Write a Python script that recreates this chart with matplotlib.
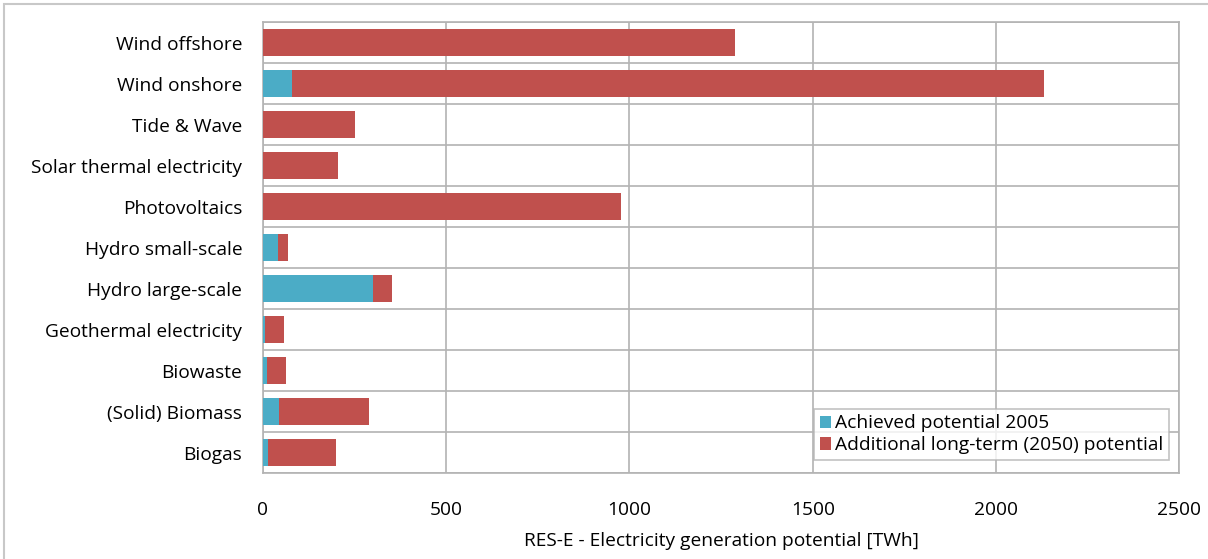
import matplotlib
matplotlib.use("Agg")
import matplotlib.pyplot as plt
from matplotlib.patches import Rectangle
import numpy as np

categories = ["Biogas", "(Solid) Biomass", "Biowaste", "Geothermal electricity",
              "Hydro large-scale", "Hydro small-scale", "Photovoltaics",
              "Solar thermal electricity", "Tide & Wave", "Wind onshore", "Wind offshore"]
achieved_2005 = [14, 43, 12, 5, 299, 42, 1, 0, 0, 78, 1]
total_2050 = [198, 288, 64, 56, 351, 67, 976, 205, 251, 2131, 1288]
additional_2050 = [t - a for t, a in zip(total_2050, achieved_2005)]

x_ticks = [0, 500, 1000, 1500, 2000, 2500]

BLUE = "#4BACC6"
RED = "#C0504D"
GRID = "#B3B3B3"
FS = 13.8

plt.rcParams["font.family"] = ["Open Sans", "DejaVu Sans"]

fig = plt.figure(figsize=(12.08, 5.59), dpi=100)
ax = fig.add_axes([0.2177, 0.1538, 0.9762 - 0.2177, 0.9606 - 0.1538])

y = np.arange(len(categories))
ax.barh(y, achieved_2005, height=0.66, color=BLUE, label="Achieved potential 2005", zorder=3)
ax.barh(y, additional_2050, left=achieved_2005, height=0.66, color=RED,
        label="Additional long-term (2050) potential", zorder=3)

ax.set_xlim(0, 2500)
ax.set_ylim(-0.5, len(categories) - 0.5)
ax.set_xticks(x_ticks)
ax.set_xticklabels([str(t) for t in x_ticks])
ax.set_yticks(y)
ax.set_yticklabels(categories)
ax.set_yticks(np.arange(-0.5, len(categories), 1.0), minor=True)

ax.grid(axis="x", which="major", color=GRID, linewidth=1.2, zorder=0)
ax.grid(axis="y", which="minor", color=GRID, linewidth=1.2, zorder=0)
ax.tick_params(axis="both", which="both", length=0, labelsize=FS, colors="black")
ax.tick_params(axis="x", pad=20)
ax.tick_params(axis="y", pad=15)
for s in ax.spines.values():
    s.set_color(GRID)
    s.set_linewidth(1.2)

ax.set_xlabel("RES-E - Electricity generation potential [TWh]", fontsize=FS, labelpad=9.5)

leg = ax.legend(loc="lower right", bbox_to_anchor=(0.989, 0.029), frameon=True, fancybox=False,
                fontsize=FS, handlelength=0.6, handleheight=0.6, handletextpad=0.2,
                borderpad=0.3, labelspacing=0.2, borderaxespad=0)
leg.get_frame().set_edgecolor(GRID)
leg.get_frame().set_linewidth(1.2)

# thin frame around the whole chart
fig.patches.append(Rectangle((4 / 1208, -0.1), 1.2, 1.1 - 4 / 559, transform=fig.transFigure,
                             fill=False, edgecolor="#C8C8C8", linewidth=1.5))

fig.savefig("out.png", dpi=100)
